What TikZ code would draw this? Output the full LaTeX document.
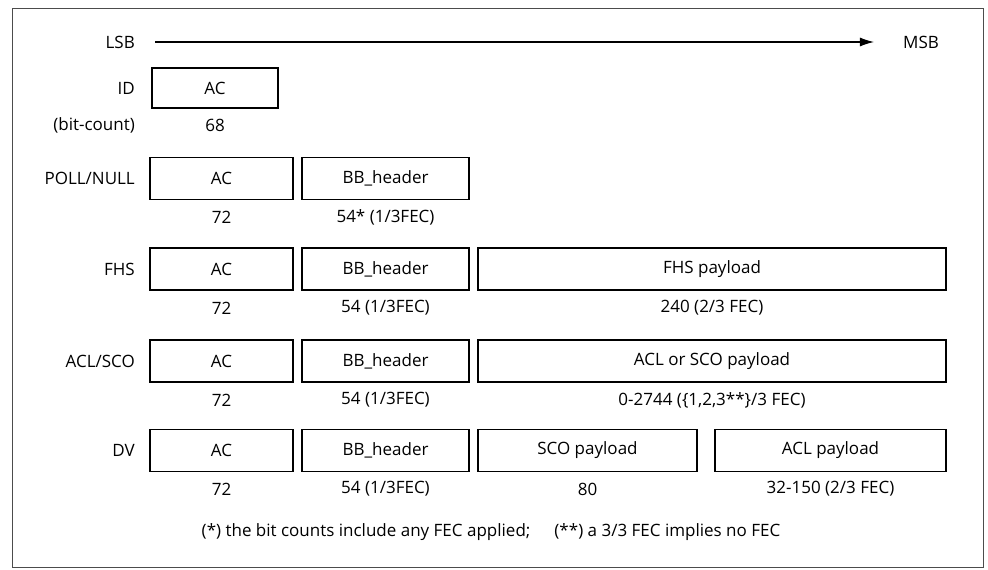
\documentclass[tikz,border=0pt]{standalone}
\usepackage{fontspec}
\setmainfont{Open Sans}
\usetikzlibrary{arrows.meta}
\begin{document}
\begin{tikzpicture}[x=1pt,y=-1pt,
  txt/.style={inner sep=0pt, font=\fontsize{17}{20}\selectfont},
  field/.style={txt, draw, line width=1.1pt, minimum height=42pt},
  rowlbl/.style={txt, anchor=east},
  frame/.style={draw=black!70, line width=0.9pt}]
\useasboundingbox (0,0) rectangle (988,570);
\draw[frame] (12,8) rectangle (983,567);
% header
\node[rowlbl] (lsb) at (135,42) {LSB};
\node[txt] (msb) at (921,42) {MSB};
\draw[line width=1.1pt, -{Latex[length=14pt,width=9pt]}] ([xshift=20pt]lsb.east) -- ([xshift=-29pt]msb.west);
% ID row
\node[rowlbl] (idl) at (135,88) {ID};
\node[field, minimum width=126pt, minimum height=40pt] (idac) at (215,88) {AC};
\node[rowlbl] (bcl) at (135,125) {(bit-count)};
\node[txt] (idn) at (215,125) {68};
% POLL/NULL row
\node[rowlbl] (pl) at (135,178.5) {POLL/NULL};
\node[field, minimum width=143pt] (pac) at (221.5,178.5) {AC};
\node[field, minimum width=167pt] (pbb) at (385.5,178.5) {BB\_header};
\node[txt] (pacn) at (221.5,217) {72};
\node[txt] (pbbn) at (385.5,217) {54* (1/3FEC)};
% FHS row
\node[rowlbl] (fl) at (135,269) {FHS};
\node[field, minimum width=143pt] (fac) at (221.5,269) {AC};
\node[field, minimum width=167pt] (fbb) at (385.5,269) {BB\_header};
\node[field, minimum width=468pt] (fpl) at (712,269) {FHS payload};
\node[txt] (facn) at (221.5,308) {72};
\node[txt] (fbbn) at (385.5,308) {54 (1/3FEC)};
\node[txt] (fpln) at (712,308) {240 (2/3 FEC)};
% ACL/SCO row
\node[rowlbl] (al) at (135,361) {ACL/SCO};
\node[field, minimum width=143pt] (aac) at (221.5,361) {AC};
\node[field, minimum width=167pt] (abb) at (385.5,361) {BB\_header};
\node[field, minimum width=468pt] (apl) at (712,361) {ACL or SCO payload};
\node[txt] (aacn) at (221.5,400) {72};
\node[txt] (abbn) at (385.5,400) {54 (1/3FEC)};
\node[txt] (apln) at (712,400) {0-2744 (\{1,2,3**\}/3 FEC)};
% DV row
\node[rowlbl] (dl) at (135,450.5) {DV};
\node[field, minimum width=143pt] (dac) at (221.5,450.5) {AC};
\node[field, minimum width=167pt] (dbb) at (385.5,450.5) {BB\_header};
\node[field, minimum width=219pt] (dsco) at (587.5,450.5) {SCO payload};
\node[field, minimum width=231pt] (dacl) at (830.5,450.5) {ACL payload};
\node[txt] (dacn) at (221.5,489) {72};
\node[txt] (dbbn) at (385.5,489) {54 (1/3FEC)};
\node[txt] (dscon) at (587.5,489) {80};
\node[txt] (dacln) at (830.5,489) {32-150 (2/3 FEC)};
% footnote
\node[txt] (note) at (491,532) {(*) the bit counts include any FEC applied;\hspace{24pt}(**) a 3/3 FEC implies no FEC};
\end{tikzpicture}
\end{document}
